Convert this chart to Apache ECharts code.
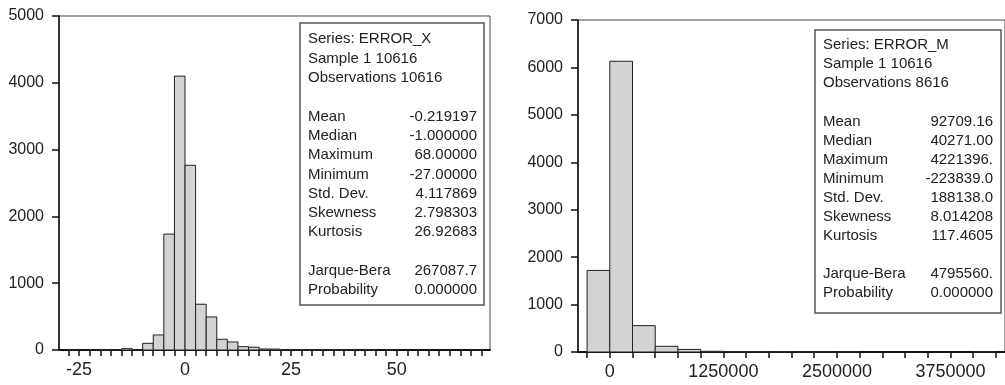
<!DOCTYPE html>
<html>
<head>
<meta charset="utf-8">
<script src="https://cdn.jsdelivr.net/npm/echarts@6/dist/echarts.min.js"></script>
<style>
  html, body { margin: 0; padding: 0; background: #fff; }
  #chart { width: 1005px; height: 385px; }
</style>
</head>
<body>
<div id="chart"></div>
<script>
// histogram of ERROR_X: bins of 2.5, first bin starts at -27.5
var leftFirstEdge = -27.5;
var leftBinWidth = 2.5;
var leftCounts = [1, 0, 1, 2, 3, 20, 8, 100, 225, 1735, 4100, 2765, 685, 495, 160, 120, 50, 42, 15, 14,
  5, 6, 5, 3, 3, 2, 1, 1, 1, 0, 1, 0, 0, 0, 0, 0, 0, 0, 1];
var leftXTicks = [];
for (var t = -27.5; t <= 70; t += 2.5) leftXTicks.push(t);
var leftXLabels = [-25, 0, 25, 50];
var leftYMax = 5000;

// histogram of ERROR_M: bins of 250000, first bin starts at -250000
var rightFirstEdge = -250000;
var rightBinWidth = 250000;
var rightCounts = [1720, 6130, 556, 120, 55, 15, 8, 4, 3, 2, 1, 1, 0, 0, 0, 0, 0, 1];
var rightXTicks = [];
for (var k = -250000; k <= 4250000; k += 250000) rightXTicks.push(k);
var rightXLabels = [0, 1250000, 2500000, 3750000];
var rightYMax = 7000;

// stats boxes
var statNames = ["Mean", "Median", "Maximum", "Minimum", "Std. Dev.", "Skewness", "Kurtosis", "", "Jarque-Bera", "Probability"];
var leftHeader = ["Series: ERROR_X", "Sample 1 10616", "Observations 10616"];
var leftStats = ["-0.219197", "-1.000000", "68.00000", "-27.00000", "4.117869", "2.798303", "26.92683", "", "267087.7", "0.000000"];
var rightHeader = ["Series: ERROR_M", "Sample 1 10616", "Observations 8616"];
var rightStats = ["92709.16", "40271.00", "4221396.", "-223839.0", "188138.0", "8.014208", "117.4605", "", "4795560.", "0.000000"];

var FONT = "'Liberation Sans', Arial, sans-serif";
var TEXT = "#222";

function toBins(first, width, counts) {
  var out = [];
  for (var i = 0; i < counts.length; i++) {
    out.push([first + i * width, first + (i + 1) * width, counts[i]]);
  }
  return out;
}

function renderBar(params, api) {
  var count = api.value(2);
  if (!count) return null;
  var p0 = api.coord([api.value(0), count]);
  var p1 = api.coord([api.value(1), 0]);
  return {
    type: "rect",
    shape: { x: p0[0], y: p0[1], width: p1[0] - p0[0], height: p1[1] - p0[1] },
    style: { fill: "#d3d3d3", stroke: "#222", lineWidth: 1 }
  };
}

function xAxisOf(idx, min, max, ticks, labels) {
  return {
    type: "value", gridIndex: idx, min: min, max: max,
    axisLine: { show: true, onZero: false, lineStyle: { color: "#111", width: 2 } },
    axisTick: { show: true, customValues: ticks, length: 6, lineStyle: { color: "#111", width: 1.5 } },
    axisLabel: {
      customValues: labels, fontSize: 18, fontFamily: FONT, color: TEXT, margin: 11,
      formatter: function (v) { return String(v); }
    },
    splitLine: { show: false }
  };
}

function yAxisOf(idx, max) {
  return {
    type: "value", gridIndex: idx, min: 0, max: max, interval: 1000,
    axisLine: { show: true, onZero: false, lineStyle: { color: "#111", width: 1.5 } },
    axisTick: { show: true, length: 7, lineStyle: { color: "#111", width: 1.5 } },
    axisLabel: {
      fontSize: 16, fontFamily: FONT, color: TEXT, margin: 15,
      formatter: function (v) { return String(v); }
    },
    splitLine: { show: false }
  };
}

function statBox(x, y, w, h, textX, valueX, firstY, step, header, values) {
  var items = [{
    type: "rect",
    shape: { x: x, y: y, width: w, height: h },
    style: { fill: "#fff", stroke: "#555", lineWidth: 1.5 }
  }];
  var rows = header.concat([""]);
  for (var i = 0; i < statNames.length; i++) rows.push(statNames[i]);
  for (var r = 0; r < rows.length; r++) {
    if (!rows[r]) continue;
    items.push({
      type: "text", x: textX, y: firstY + r * step,
      style: { text: rows[r], font: "15px " + FONT, fill: TEXT, align: "left", verticalAlign: "middle" }
    });
  }
  for (var j = 0; j < values.length; j++) {
    if (!values[j]) continue;
    items.push({
      type: "text", x: valueX, y: firstY + (header.length + 1 + j) * step,
      style: { text: values[j], font: "15px " + FONT, fill: TEXT, align: "right", verticalAlign: "middle" }
    });
  }
  return items;
}

var myChart = echarts.init(document.getElementById("chart"), null, { renderer: "canvas" });

var option = {
  animation: false,
  backgroundColor: "#fff",
  grid: [
    { left: 59, top: 16, width: 431, height: 334, show: true, borderColor: "#444", borderWidth: 1, backgroundColor: "#fff" },
    { left: 578, top: 20, width: 430.5, height: 332, show: true, borderColor: "#444", borderWidth: 1, backgroundColor: "#fff" }
  ],
  xAxis: [
    xAxisOf(0, -29.75, 72, leftXTicks, leftXLabels),
    xAxisOf(1, -350000, 4350000, rightXTicks, rightXLabels)
  ],
  yAxis: [yAxisOf(0, leftYMax), yAxisOf(1, rightYMax)],
  series: [
    {
      type: "custom", xAxisIndex: 0, yAxisIndex: 0,
      renderItem: renderBar, encode: { x: [0, 1], y: 2 },
      data: toBins(leftFirstEdge, leftBinWidth, leftCounts)
    },
    {
      type: "custom", xAxisIndex: 1, yAxisIndex: 1,
      renderItem: renderBar, encode: { x: [0, 1], y: 2 },
      data: toBins(rightFirstEdge, rightBinWidth, rightCounts)
    }
  ],
  graphic: statBox(300, 23, 184, 282, 308, 477, 39.3, 19.3, leftHeader, leftStats)
    .concat(statBox(815, 30, 186, 283, 823, 993, 45, 19.1, rightHeader, rightStats))
};

myChart.setOption(option);
</script>
</body>
</html>
